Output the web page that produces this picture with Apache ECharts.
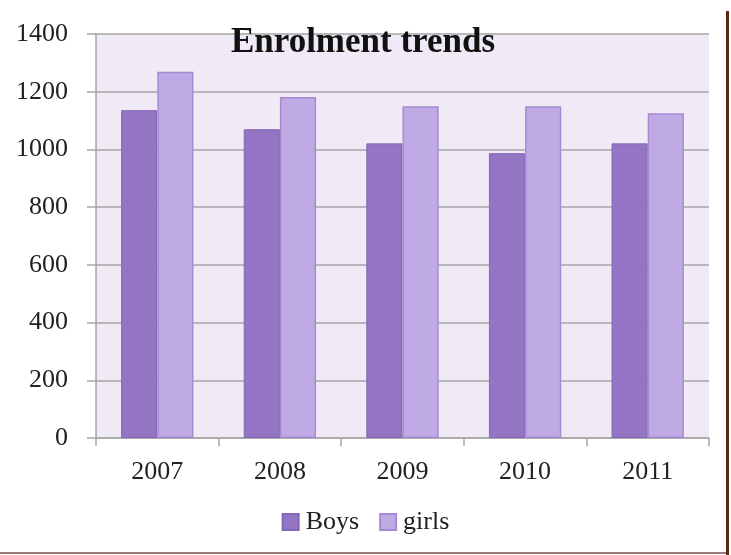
<!DOCTYPE html>
<html>
<head>
<meta charset="utf-8">
<script src="https://cdn.jsdelivr.net/npm/echarts@6/dist/echarts.min.js"></script>
<style>
  html, body { margin: 0; padding: 0; background: #fff; }
  #chart { width: 731px; height: 555px; }
</style>
</head>
<body>
<div id="chart"></div>
<script>
// 데이터
const years = ['2007', '2008', '2009', '2010', '2011'];
const boys = [1136, 1070, 1021, 987, 1021];
const girls = [1269, 1182, 1150, 1150, 1125];
const yTicks = [0, 200, 400, 600, 800, 1000, 1200, 1400];

const serif = '"Liberation Serif", "DejaVu Serif", serif';
const chart = echarts.init(document.getElementById('chart'));

chart.setOption({
  animation: false,
  title: {
    text: 'Enrolment trends',
    left: 358, top: 20, textAlign: 'center',
    textStyle: { fontFamily: serif, fontSize: 35, fontWeight: 'bold', color: '#111' }
  },
  legend: {
    data: ['Boys', 'girls'],
    bottom: 15, left: 'center',
    itemWidth: 16, itemHeight: 16, itemGap: 20,
    icon: 'rect',
    textStyle: { fontFamily: serif, fontSize: 26, color: '#222', padding: [0, 0, 0, 2] }
  },
  grid: {
    left: 96, right: 22, top: 34, bottom: 117,
    show: true, backgroundColor: '#EFEAF6', borderWidth: 0
  },
  xAxis: {
    type: 'category',
    data: years,
    axisLine: { lineStyle: { color: '#A6A6A6', width: 1.5 } },
    axisTick: { show: true, length: 8, lineStyle: { color: '#A6A6A6', width: 1.5 } },
    axisLabel: { fontFamily: serif, fontSize: 26, color: '#222', margin: 21 }
  },
  yAxis: {
    type: 'value',
    min: yTicks[0], max: yTicks[yTicks.length - 1], interval: 200,
    axisLine: { show: true, lineStyle: { color: '#A6A6A6', width: 1.5 } },
    axisTick: { show: true, length: 9, lineStyle: { color: '#A6A6A6', width: 1.5 } },
    splitLine: { lineStyle: { color: '#A6A6A6', width: 1.5 } },
    axisLabel: { fontFamily: serif, fontSize: 26, color: '#222', margin: 28, formatter: (v) => String(v) }
  },
  series: [
    {
      name: 'Boys', type: 'bar', data: boys,
      barGap: '0%', barCategoryGap: '41%',
      itemStyle: { color: '#9375C4', borderColor: '#8466B8', borderWidth: 1 }
    },
    {
      name: 'girls', type: 'bar', data: girls,
      itemStyle: { color: '#C0AAE5', borderColor: '#A58CD2', borderWidth: 1.5 }
    }
  ],
  graphic: [
    { type: 'line', shape: { x1: 727.5, y1: 11, x2: 727.5, y2: 555 }, style: { stroke: '#5A2A10', lineWidth: 3 } },
    { type: 'line', shape: { x1: 0, y1: 553, x2: 726, y2: 553 }, style: { stroke: '#9C7A7A', lineWidth: 2 } }
  ]
});
</script>
</body>
</html>
